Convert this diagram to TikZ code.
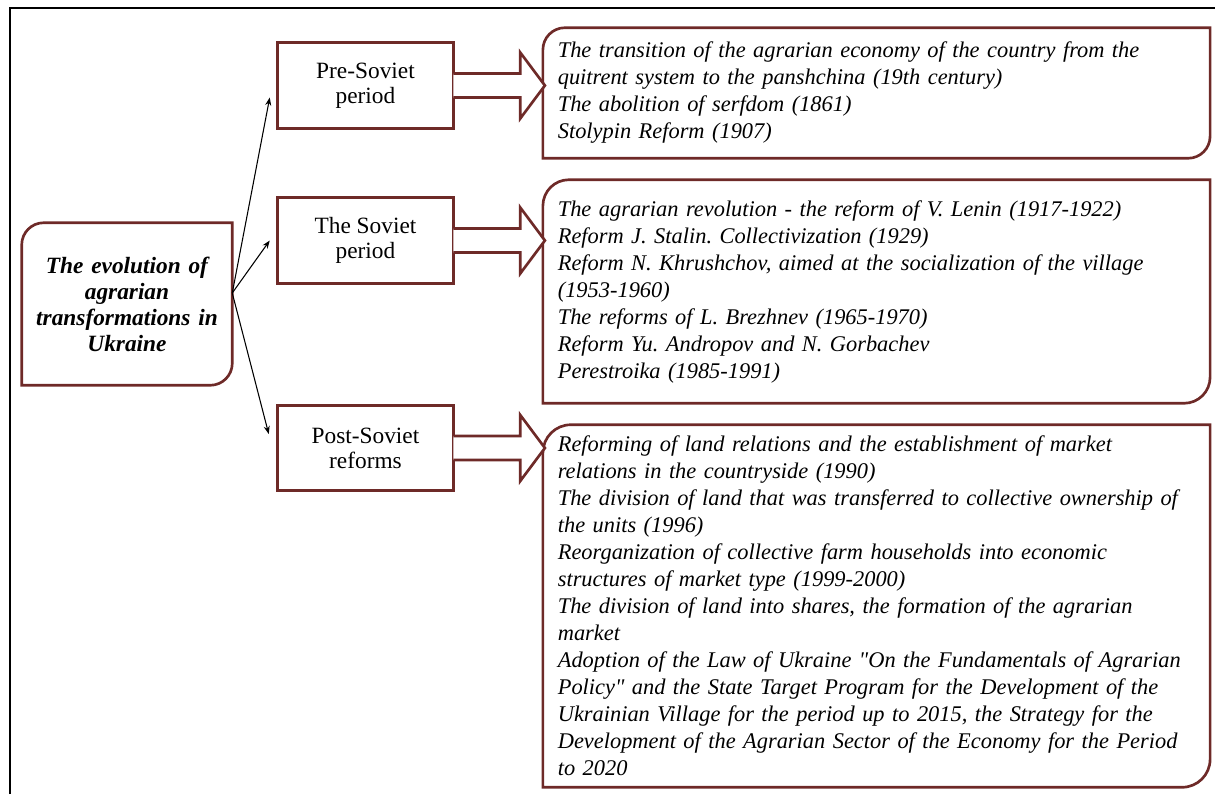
\documentclass[tikz,border=0pt]{standalone}
\usepackage{fontspec}
\setmainfont{Liberation Serif}
\usetikzlibrary{calc, arrows.meta}
\frenchspacing
\hyphenpenalty=10000

\definecolor{boxred}{RGB}{110,42,40}

\begin{document}
\begin{tikzpicture}[x=0.75pt, y=-0.75pt, >={Stealth[length=6pt, width=4.5pt]},
    boxline/.style={draw=boxred, line width=2pt},
    period/.style={inner sep=0pt, minimum width=131.25pt, minimum height=63.75pt,
        align=center, font=\fontsize{17.5}{18.75}\selectfont},
    events/.style={inner xsep=11pt, inner ysep=0pt, text width=478pt,
        align=left, font=\fontsize{16.8}{20.25}\selectfont\itshape}]
    \useasboundingbox (0,0) rectangle (1215,794);

    % Frame
    \draw[line width=2.2pt] (10,794) -- (10,8) -- (1215,8);

    % Main node
    \node[inner sep=0pt, minimum width=157.5pt, minimum height=121.5pt, text width=150pt,
        align=center, font=\fontsize{17.5}{19.5}\selectfont\bfseries\itshape]
        (evo) at (127,304) {The evolution of\\ agrarian\\ transformations in\\ Ukraine};

    % Periods
    \node[period] (pre) at (365.5,85.5) {Pre-Soviet\\ period};
    \node[period] (sov) at (365.5,240.5) {The Soviet\\ period};
    \node[period] (post) at (365.5,448) {Post-Soviet\\ reforms};

    % Events
    \node[events, minimum height=97.5pt] (big1) at (876.5,93) {The transition of the agrarian economy of the country from the\\
        quitrent system to the panshchina (19th century)\\
        The abolition of serfdom (1861)\\
        Stolypin Reform (1907)};
    \node[events, minimum height=167.25pt] (big2) at (876.5,291.5) {The agrarian revolution - the reform of V. Lenin (1917-1922)\\
        Reform J. Stalin. Collectivization (1929)\\
        Reform N. Khrushchov, aimed at the socialization of the village\\
        (1953-1960)\\
        The reforms of L. Brezhnev (1965-1970)\\
        Reform Yu. Andropov and N. Gorbachev\\
        Perestroika (1985-1991)};
    \node[events, minimum height=271.5pt] (big3) at (876.5,606) {Reforming of land relations and the establishment of market\\
        relations in the countryside (1990)\\
        The division of land that was transferred to collective ownership of\\
        the units (1996)\\
        Reorganization of collective farm households into economic\\
        structures of market type (1999-2000)\\
        The division of land into shares, the formation of the agrarian\\
        market\\
        Adoption of the Law of Ukraine \textquotedbl On the Fundamentals of Agrarian\\
        Policy\textquotedbl\ and the State Target Program for the Development of the\\
        Ukrainian Village for the period up to 2015, the Strategy for the\\
        Development of the Agrarian Sector of the Economy for the Period\\
        to 2020};

    % Outlines, rounded top left and bottom right
    \foreach \n/\r in {evo/22, big1/22, big2/26, big3/28}
        \draw[boxline] ($(\n.north west)+(0,\r)$) arc[start angle=180, end angle=90, radius=\r*0.75pt]
            -- (\n.north east) -- ($(\n.south east)+(0,-\r)$)
            arc[start angle=0, end angle=-90, radius=\r*0.75pt] -- (\n.south west) -- cycle;
    \foreach \n in {pre, sov, post}
        \draw[boxline] (\n.north west) rectangle (\n.south east);

    % Block arrows
    \foreach \s/\t in {pre/big1, sov/big2, post/big3}
        \draw[boxline, fill=white] ($(\s.east)+(0,-12)$) -- ++(67,0) -- ++(0,-21)
            -- ($(\s.east -| \t.west)+(2,0)$) -- ($(\s.east)+(67,33)$) -- ++(0,-21)
            -- ($(\s.east)+(0,12)$);

    % Connectors
    \coordinate (hub) at ($(evo.east)+(0,-11)$);
    \draw[->, line width=0.8pt] (hub) -- ($(pre.west)+(-8,12)$);
    \draw[->, line width=0.8pt] (hub) -- ($(sov.west)+(-8,0)$);
    \draw[->, line width=0.8pt] (hub) -- ($(post.west)+(-9,-14)$);
\end{tikzpicture}
\end{document}
